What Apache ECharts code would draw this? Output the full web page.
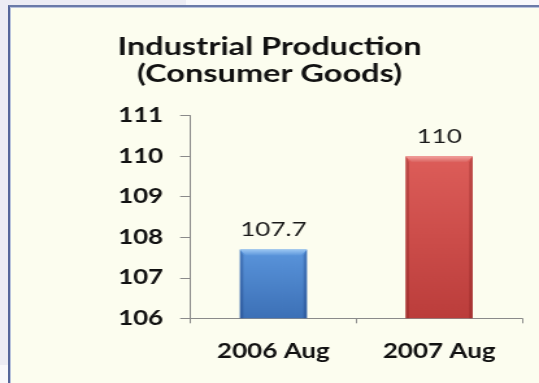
<!DOCTYPE html>
<html>
<head>
<meta charset="utf-8">
<title>Industrial Production (Consumer Goods)</title>
<script src="https://cdn.jsdelivr.net/npm/echarts@6/dist/echarts.min.js"></script>
<style>
  html, body { margin: 0; padding: 0; background: #f8f8fb; }
  body { position: relative; width: 539px; height: 383px; overflow: hidden; }
  .strip-left { position: absolute; left: 0; top: 0; width: 8px; height: 365px; background: #ececf4; }
  .strip-top { position: absolute; left: 0; top: 0; width: 186px; height: 5px; background: #ececf4; }
  .frame {
    position: absolute; left: 8px; top: 5px; right: 0; bottom: 0;
    background: #fcfdef;
    border-left: 2px solid #55669a;
    border-top: 2px solid #6a7aa8;
    box-shadow: inset 1px 1px 0 #b9c3dc;
  }
  /* the chart is laid out narrow and widened horizontally */
  #chart {
    position: absolute; left: 0; top: 0;
    width: 415px; height: 383px;
    transform-origin: 0 0;
    transform: scaleX(1.2988);
  }
</style>
</head>
<body>
<div class="strip-left"></div>
<div class="strip-top"></div>
<div class="frame"></div>
<div id="chart"></div>
<script>
// Industrial production index, consumer goods
const categories = ['2006 Aug', '2007 Aug'];
const values = [107.7, 110];
const yMin = 106;
const yMax = 111;
const yStep = 1;

const SX = 1.2988; // horizontal widening applied to the chart box

const palettes = [
  { top: '#5a95dc', bottom: '#3c70b6', bevelA: '#9cc7f3', bevelB: '#5d97dc', side: 'rgba(20,50,110,0.28)' },
  { top: '#dd5d59', bottom: '#bb3d3b', bevelA: '#f3a3a0', bevelB: '#da615d', side: 'rgba(110,20,20,0.28)' }
];

const chart = echarts.init(document.getElementById('chart'), null, { renderer: 'canvas' });

function renderBar(params, api) {
  const idx = api.value(0);
  const val = api.value(1);
  const top = api.coord([idx, val]);
  const base = api.coord([idx, yMin]);
  const band = api.size([1, 0])[0];
  const w = band * 0.405;
  const x = top[0] - w / 2;
  const y = top[1];
  const h = base[1] - top[1];
  const bh = 6;          // bevel height
  const bw = 6 / SX;     // bevel width (pre-widening)
  const sw = 3.5 / SX;   // side shading width
  const p = palettes[idx % palettes.length];
  const G = echarts.graphic.LinearGradient;
  return {
    type: 'group',
    children: [
      {
        type: 'rect',
        shape: { x: x, y: y, width: w, height: h },
        style: { fill: new G(0, 0, 0, 1, [{ offset: 0, color: p.top }, { offset: 1, color: p.bottom }]) }
      },
      {
        type: 'polygon',
        shape: { points: [[x, y], [x + sw, y + bh], [x + sw, base[1]], [x, base[1]]] },
        style: { fill: p.side }
      },
      {
        type: 'polygon',
        shape: { points: [[x + w, y], [x + w - sw, y + bh], [x + w - sw, base[1]], [x + w, base[1]]] },
        style: { fill: p.side }
      },
      {
        type: 'polygon',
        shape: { points: [[x, y], [x + w, y], [x + w - bw, y + bh], [x + bw, y + bh]] },
        style: { fill: new G(0, 0, 0, 1, [{ offset: 0, color: p.bevelA }, { offset: 1, color: p.bevelB }]) }
      },
      {
        type: 'text',
        x: top[0],
        y: y - 10,
        style: {
          text: String(val),
          align: 'center',
          verticalAlign: 'bottom',
          fontFamily: 'Lato',
          fontSize: 20,
          fill: '#1a1a1a'
        }
      }
    ]
  };
}

chart.setOption({
  animation: false,
  backgroundColor: 'transparent',
  title: {
    text: 'Industrial Production\n(Consumer Goods)',
    left: 'center',
    top: 28,
    textStyle: {
      fontFamily: 'Lato',
      fontWeight: 'bold',
      fontSize: 25,
      lineHeight: 27,
      color: '#111'
    }
  },
  grid: { left: 146.7, right: 13.1, top: 115.7, bottom: 64.7, containLabel: false },
  xAxis: {
    type: 'category',
    data: categories,
    boundaryGap: true,
    axisLine: { show: true, lineStyle: { color: '#8a8a8a', width: 1 } },
    axisTick: { show: true, length: 5, lineStyle: { color: '#8a8a8a' } },
    axisLabel: {
      margin: 23,
      fontFamily: 'Lato',
      fontWeight: 'bold',
      fontSize: 20,
      color: '#111'
    },
    splitLine: { show: false }
  },
  yAxis: {
    type: 'value',
    min: yMin,
    max: yMax,
    interval: yStep,
    axisLine: { show: true, lineStyle: { color: '#8a8a8a', width: 1 } },
    axisTick: { show: true, length: 8, lineStyle: { color: '#8a8a8a' } },
    axisLabel: {
      margin: 21,
      fontFamily: 'Lato',
      fontWeight: 'bold',
      fontSize: 20,
      color: '#111'
    },
    splitLine: { show: false }
  },
  series: [{
    type: 'custom',
    renderItem: renderBar,
    encode: { x: 0, y: 1 },
    data: values.map((v, i) => [i, v]),
    clip: false
  }]
});
</script>
</body>
</html>
